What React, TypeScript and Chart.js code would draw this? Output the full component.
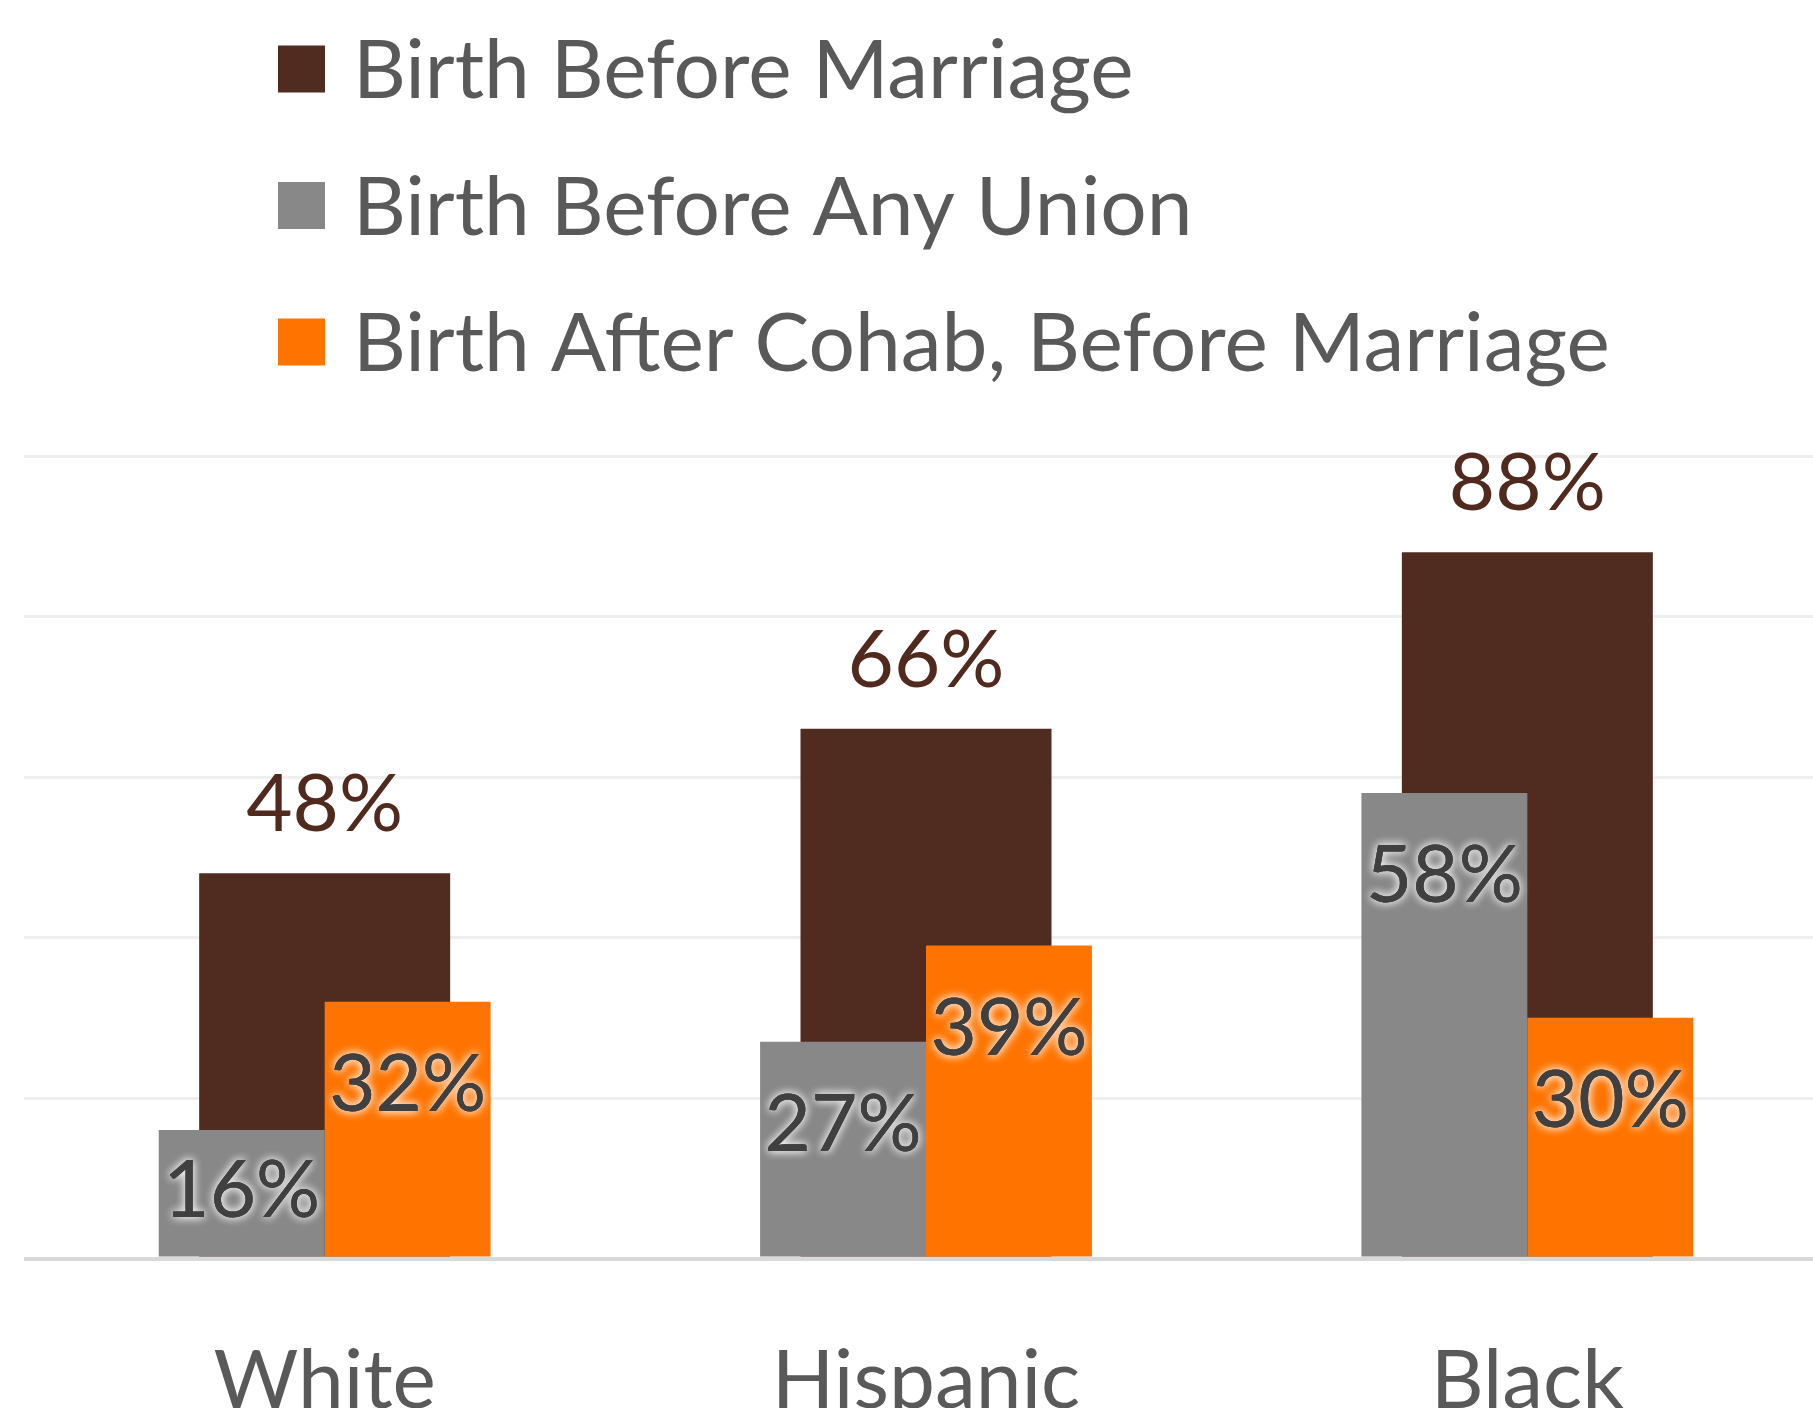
import React, { useEffect, useRef } from "react";
import { Chart, registerables } from "chart.js";

Chart.register(...registerables);

// ---- data ----
const categories = ["White", "Hispanic", "Black"];
const seriesNames = [
  "Birth Before Marriage",
  "Birth Before Any Union",
  "Birth After Cohab, Before Marriage",
];
const beforeMarriage = [48, 66, 88];
const beforeAnyUnion = [16, 27, 58];
const afterCohab = [32, 39, 30];
const yMin = 0;
const yMax = 100;
const yStep = 20;

// ---- styles ----
const FONT = "Lato";
const BROWN = "#502B1F";
const GRAY = "#888888";
const ORANGE = "#FF7400";
const TEXT_GRAY = "#595959";

const legendPlugin = {
  id: "stackedLegend",
  afterDraw(chart: any) {
    const ctx = chart.ctx;
    ctx.save();
    const firstRow = 69;
    const rowStep = 136.5;
    chart.data.datasets.forEach((ds: any, i: number) => {
      const cy = firstRow + i * rowStep;
      ctx.fillStyle = ds.backgroundColor;
      ctx.fillRect(278, cy - 23.5, 47, 47);
      ctx.fillStyle = TEXT_GRAY;
      ctx.font = `82px ${FONT}`;
      ctx.textAlign = "left";
      ctx.textBaseline = "alphabetic";
      ctx.fillText(ds.label, 353, cy + 29);
    });
    ctx.restore();
  },
};

const labelPlugin = {
  id: "barValueLabels",
  afterDatasetsDraw(chart: any) {
    const ctx = chart.ctx;
    ctx.save();
    ctx.textAlign = "center";
    ctx.textBaseline = "alphabetic";
    ctx.font = `80px ${FONT}`;
    chart.data.datasets.forEach((ds: any, di: number) => {
      const meta = chart.getDatasetMeta(di);
      meta.data.forEach((bar: any, i: number) => {
        const { x, y, base } = bar.getProps(["x", "y", "base"], true);
        const text = `${Math.round(ds.data[i])}%`;
        if (di === 0) {
          ctx.shadowColor = "transparent";
          ctx.shadowBlur = 0;
          ctx.fillStyle = "#502A1E";
          ctx.fillText(text, x, y - 42);
        } else {
          const by = Math.min(y + 109, (y + base) / 2 + 24);
          ctx.fillStyle = "#404040";
          ctx.shadowColor = "rgba(255,255,255,0.8)";
          ctx.shadowBlur = 10;
          ctx.fillText(text, x, by);
          ctx.fillText(text, x, by);
          ctx.shadowColor = "transparent";
          ctx.shadowBlur = 0;
          ctx.fillText(text, x, by);
        }
      });
    });
    ctx.restore();
  },
};

export default function App() {
  const ref = useRef<HTMLCanvasElement>(null);

  useEffect(() => {
    if (!ref.current) return;
    const chart = new Chart(ref.current, {
      type: "bar",
      data: {
        labels: categories,
        datasets: [
          {
            label: seriesNames[0],
            data: beforeMarriage,
            backgroundColor: BROWN,
            order: 2,
            grouped: false,
            categoryPercentage: 0.4174,
            barPercentage: 1,
            borderWidth: 0,
          },
          {
            label: seriesNames[1],
            data: beforeAnyUnion,
            backgroundColor: GRAY,
            order: 1,
            categoryPercentage: 0.5518,
            barPercentage: 1,
            borderWidth: 0,
          },
          {
            label: seriesNames[2],
            data: afterCohab,
            backgroundColor: ORANGE,
            order: 1,
            categoryPercentage: 0.5518,
            barPercentage: 1,
            borderWidth: 0,
          },
        ],
      } as any,
      options: {
        responsive: false,
        animation: false,
        layout: { padding: { top: 456, left: 24, right: 2, bottom: 0 } },
        plugins: {
          legend: { display: false },
          tooltip: { enabled: false },
        },
        scales: {
          x: {
            type: "category",
            offset: true,
            grid: { display: false },
            border: { display: false },
            ticks: {
              color: TEXT_GRAY,
              font: { family: FONT, size: 82 },
              padding: 66,
              maxRotation: 0,
              autoSkip: false,
            },
            afterFit: (s: any) => {
              s.height = 149.5;
            },
          },
          y: {
            min: yMin,
            max: yMax,
            ticks: { display: false, stepSize: yStep },
            grid: {
              color: (c: any) => (c.tick && c.tick.value === 0 ? "#D9D9D9" : "#EFEFEF"),
              lineWidth: (c: any) => (c.tick && c.tick.value === 0 ? 4 : 3),
              drawTicks: false,
            },
            border: { display: false },
            afterFit: (s: any) => {
              s.width = 0;
            },
          },
        },
      } as any,
      plugins: [legendPlugin, labelPlugin],
    });
    return () => chart.destroy();
  }, []);

  return (
    <div
      style={{
        position: "fixed",
        left: 0,
        top: 0,
        width: 1813,
        height: 1408,
        overflow: "hidden",
        background: "#ffffff",
      }}
    >
      <canvas
        ref={ref}
        width={1830}
        height={1408}
        style={{ display: "block", width: 1830, height: 1408 }}
      />
    </div>
  );
}
